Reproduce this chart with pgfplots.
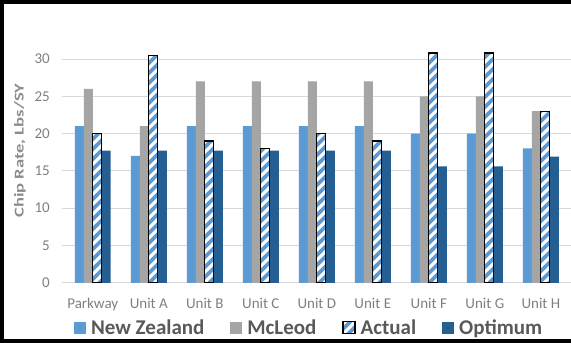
\documentclass[border=0pt]{standalone}
\usepackage{pgfplots}
\pgfplotsset{compat=1.18}
\usepackage{fontspec}
\setmainfont{Carlito}
\usetikzlibrary{patterns.meta}
\definecolor{nzblue}{HTML}{5B9BD5}
\definecolor{mcgray}{HTML}{A5A5A5}
\definecolor{optblue}{HTML}{255E91}
\definecolor{gridc}{HTML}{D9D9D9}
\definecolor{ticktxt}{HTML}{7F7F7F}
\definecolor{legtxt}{HTML}{595959}
\tikzdeclarepattern{
  name=chipstripes,
  type=uncolored,
  bounding box={(0bp,0bp) and (10bp,10bp)},
  tile size={(10bp,10bp)},
  code={
    \pgfsetlinewidth{3.6bp}
    \pgfpathmoveto{\pgfpoint{-5bp}{-5bp}}\pgfpathlineto{\pgfpoint{15bp}{15bp}}
    \pgfpathmoveto{\pgfpoint{-5bp}{5bp}}\pgfpathlineto{\pgfpoint{5bp}{15bp}}
    \pgfpathmoveto{\pgfpoint{5bp}{-5bp}}\pgfpathlineto{\pgfpoint{15bp}{5bp}}
    \pgfusepath{stroke}
  }
}
\pgfplotstableread{
x nz mc act opt
0 21 26 20   17.7
1 17 21 30.5 17.7
2 21 27 19   17.7
3 21 27 18   17.7
4 21 27 20   17.7
5 21 27 19   17.7
6 20 25 30.8 15.6
7 20 25 30.8 15.6
8 18 23 23   16.9
}\chipdata
\begin{document}
\begin{tikzpicture}
\begin{axis}[
  scale only axis,
  width=509bp, height=224bp,
  xmin=-0.55, xmax=8.53,
  ymin=0, ymax=30,
  clip=false,
  ybar=0pt, bar width=9bp,
  xtick=data,
  xticklabels={Parkway,Unit A,Unit B,Unit C,Unit D,Unit E,Unit F,Unit G,Unit H},
  ytick={0,5,...,30},
  major tick length=0pt,
  axis line style={draw=none},
  ymajorgrids, grid style={draw=gridc, line width=0.9bp},
  /pgf/number format/assume math mode=true,
  tick label style={font=\fontsize{15bp}{18bp}\selectfont, text=ticktxt},
  xticklabel style={anchor=north, inner sep=0pt, yshift=-15bp},
  yticklabel style={anchor=east, inner sep=0pt, xshift=-12bp},
  ylabel={\scalebox{1.38}[1]{\bfseries\fontsize{13.5bp}{16bp}\selectfont Chip Rate, Lbs/SY}},
  ylabel style={at={(axis description cs:-0.0825,0.59)}, anchor=center, text=ticktxt!90!white},
  legend columns=4,
  legend style={at={(0.489,0)}, anchor=center, yshift=-45bp, draw=none, fill=none,
    font=\bfseries\fontsize{21bp}{24bp}\selectfont, text=legtxt,
    /tikz/every even column/.append style={column sep=21bp},
    /tikz/every odd column/.append style={column sep=0bp},
    nodes={inner sep=5bp},
    inner sep=0pt},
  legend image code/.code={\path[draw=none,#1] (0bp,-6bp) rectangle (12bp,6bp);},
]
\addplot[fill=nzblue, draw=none] table[x=x, y=nz] {\chipdata};
\addplot[fill=mcgray, draw=none] table[x=x, y=mc] {\chipdata};
\addplot[fill=white, draw=black, line width=1.2bp,
  postaction={pattern=chipstripes, pattern color=nzblue}] table[x=x, y=act] {\chipdata};
\addplot[fill=optblue, draw=none] table[x=x, y=opt] {\chipdata};
\legend{New Zealand, McLeod, Actual, Optimum}
\end{axis}
\useasboundingbox (-62bp,-60bp) rectangle (509bp,283bp);
\fill[black] (-62bp,-60bp) rectangle (-58bp,283bp);
\fill[black] (-62bp,279bp) rectangle (509bp,283bp);
\fill[black] (-62bp,-60bp) rectangle (509bp,-56bp);
\end{tikzpicture}
\end{document}
